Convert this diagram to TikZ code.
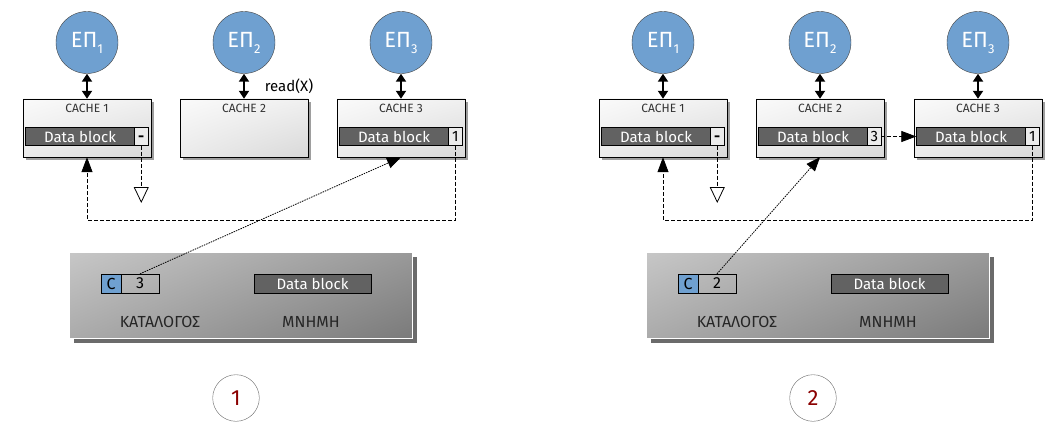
\documentclass[tikz,border=0pt]{standalone}
\usepackage{fontspec}
\setmainfont{Fira Sans}
\usepackage{xcolor}
\usetikzlibrary{arrows.meta}
\usetikzlibrary{shadows,shadings}
\definecolor{epblue}{RGB}{111,160,208}
\definecolor{blockgray}{RGB}{98,98,98}
\definecolor{numred}{RGB}{139,0,0}

\begin{document}
\begin{tikzpicture}[x=1pt, y=-1pt,
  cpu/.style={circle, draw=black!75, fill=epblue, minimum size=62pt, inner sep=0pt, text=white, font=\fontsize{22}{22}\selectfont},
  cache/.style={draw=black, minimum width=128pt, minimum height=58pt, inner sep=0pt,
    upper left=black!2, upper right=black!6, lower left=black!8, lower right=black!15,
    drop shadow={shadow xshift=3pt, shadow yshift=-3pt, fill=black!38, opacity=1}},
  cachelabel/.style={font=\fontsize{12}{12}\selectfont, text=black!80, inner sep=0pt},
  datablock/.style={draw=black, fill=blockgray, text=white, minimum width=109pt, minimum height=18pt, inner sep=0pt, font=\fontsize{15}{15}\selectfont},
  statebox/.style={draw=black, fill=black!8, minimum width=13.5pt, minimum height=18pt, inner sep=0pt, text height=10.5pt, text depth=0pt, font=\fontsize{15}{15}\selectfont},
  membox/.style={draw=white, thin, minimum width=343pt, minimum height=86pt, inner sep=0pt,
    upper left=black!22, upper right=black!40, lower left=black!33, lower right=black!52,
    drop shadow={shadow xshift=5pt, shadow yshift=-5pt, fill=black!58, opacity=1}},
  ccell/.style={draw=black, fill=epblue, minimum width=20pt, minimum height=19pt, inner sep=0pt, font=\fontsize{16}{16}\selectfont},
  numcell/.style={draw=black, minimum width=38pt, minimum height=19pt, inner sep=0pt, font=\fontsize{16}{16}\selectfont},
  memlabel/.style={font=\fontsize{16}{16}\selectfont, text=black!85, inner sep=0pt},
  stepmark/.style={circle, draw=black!60, thin, fill=white, minimum size=46.6pt, inner sep=0pt, text=numred, font=\fontsize{22}{22}\selectfont},
  bus/.style={<->, >={Triangle[length=8pt,width=10pt]}, line width=2.7pt},
  dashline/.style={draw=black, line width=0.8pt, dash pattern=on 4pt off 2pt},
  dotline/.style={draw=black, line width=0.8pt, dash pattern=on 1.5pt off 1pt}]
\useasboundingbox (0,0) rectangle (1061,428);

% step 1
\node[cpu] (p1) at (87,42.5) {ΕΠ\raisebox{-6pt}{\fontsize{13}{13}\selectfont 1}};
\node[cpu] (p2) at (244,42.5) {ΕΠ\raisebox{-6pt}{\fontsize{13}{13}\selectfont 2}};
\node[cpu] (p3) at (401,42.5) {ΕΠ\raisebox{-6pt}{\fontsize{13}{13}\selectfont 3}};
\node[cache] (c1) at (87,128) {};
\node[cache] (c2) at (244,128) {};
\node[cache] (c3) at (401,128) {};
\node[cachelabel] (l1) at (87,108) {CACHE 1};
\node[cachelabel] (l2) at (244,108) {CACHE 2};
\node[cachelabel] (l3) at (401,108) {CACHE 3};
\node[datablock] (d1) at (80,136.5) {Data block};
\node[statebox] (s1) at (141.25,136.5) {\textbf{-}};
\node[datablock] (d3) at (394,136.5) {Data block};
\node[statebox] (s3) at (455.25,136.5) {1};
\node[font=\fontsize{15}{15}\selectfont, inner sep=0pt] (r2) at (289,86) {read(X)};
\draw[bus] (p1.south) -- (c1.north);
\draw[bus] (p2.south) -- (c2.north);
\draw[bus] (p3.south) -- (c3.north);

\node[membox] (m1) at (240.5,295) {};
\node[ccell] (k1) at (111,283.5) {C};
\node[numcell] (n1) at (140,283.5) {3};
\node[datablock, minimum width=117pt, minimum height=19pt] (b1) at (312.5,283.5) {Data block};
\node[memlabel] (dir1) at (160,322) {ΚΑΤΑΛΟΓΟΣ};
\node[memlabel] (mem1) at (311,322) {ΜΝΗΜΗ};
\node[stepmark] (st1) at (236,398) {1};

\coordinate (t1) at (141.25,203);
\coordinate (w1) at (87,220);
\draw[dashline, -{Triangle[open,length=16pt,width=15pt]}] (s1.south) -- (t1);
\draw[dashline, -{Triangle[length=15pt,width=11pt]}] (s3.south) |- (w1) -- (c1.south);
\draw[dotline, -{Triangle[length=14pt,width=11pt]}] (n1.north) -- (c3.south);

% step 2
\node[cpu] (p4) at (663,42.5) {ΕΠ\raisebox{-6pt}{\fontsize{13}{13}\selectfont 1}};
\node[cpu] (p5) at (820,42.5) {ΕΠ\raisebox{-6pt}{\fontsize{13}{13}\selectfont 2}};
\node[cpu] (p6) at (978,42.5) {ΕΠ\raisebox{-6pt}{\fontsize{13}{13}\selectfont 3}};
\node[cache] (c4) at (663,128) {};
\node[cache] (c5) at (820,128) {};
\node[cache] (c6) at (978,128) {};
\node[cachelabel] (l4) at (663,108) {CACHE 1};
\node[cachelabel] (l5) at (820,108) {CACHE 2};
\node[cachelabel] (l6) at (978,108) {CACHE 3};
\node[datablock] (d4) at (656,136.5) {Data block};
\node[statebox] (s4) at (717.25,136.5) {\textbf{-}};
\node[datablock] (d5) at (813,136.5) {Data block};
\node[statebox] (s5) at (874.25,136.5) {3};
\node[datablock] (d6) at (971,136.5) {Data block};
\node[statebox] (s6) at (1032.25,136.5) {1};
\draw[bus] (p4.south) -- (c4.north);
\draw[bus] (p5.south) -- (c5.north);
\draw[bus] (p6.south) -- (c6.north);

\node[membox] (m2) at (817.5,295) {};
\node[ccell] (k2) at (688,283.5) {C};
\node[numcell] (n2) at (717,283.5) {2};
\node[datablock, minimum width=117pt, minimum height=19pt] (b2) at (889.5,283.5) {Data block};
\node[memlabel] (dir2) at (737,322) {ΚΑΤΑΛΟΓΟΣ};
\node[memlabel] (mem2) at (888,322) {ΜΝΗΜΗ};
\node[stepmark] (st2) at (813,398) {2};

\coordinate (t4) at (717.25,203);
\coordinate (w4) at (663,220);
\draw[dashline, -{Triangle[open,length=16pt,width=15pt]}] (s4.south) -- (t4);
\draw[dashline, -{Triangle[length=15pt,width=11pt]}] (s6.south) |- (w4) -- (c4.south);
\draw[dashline, -{Triangle[length=15pt,width=11pt]}] (s5.east) -- (d6.west);
\draw[dotline, -{Triangle[length=14pt,width=11pt]}] (n2.north) -- (c5.south);
\end{tikzpicture}
\end{document}
